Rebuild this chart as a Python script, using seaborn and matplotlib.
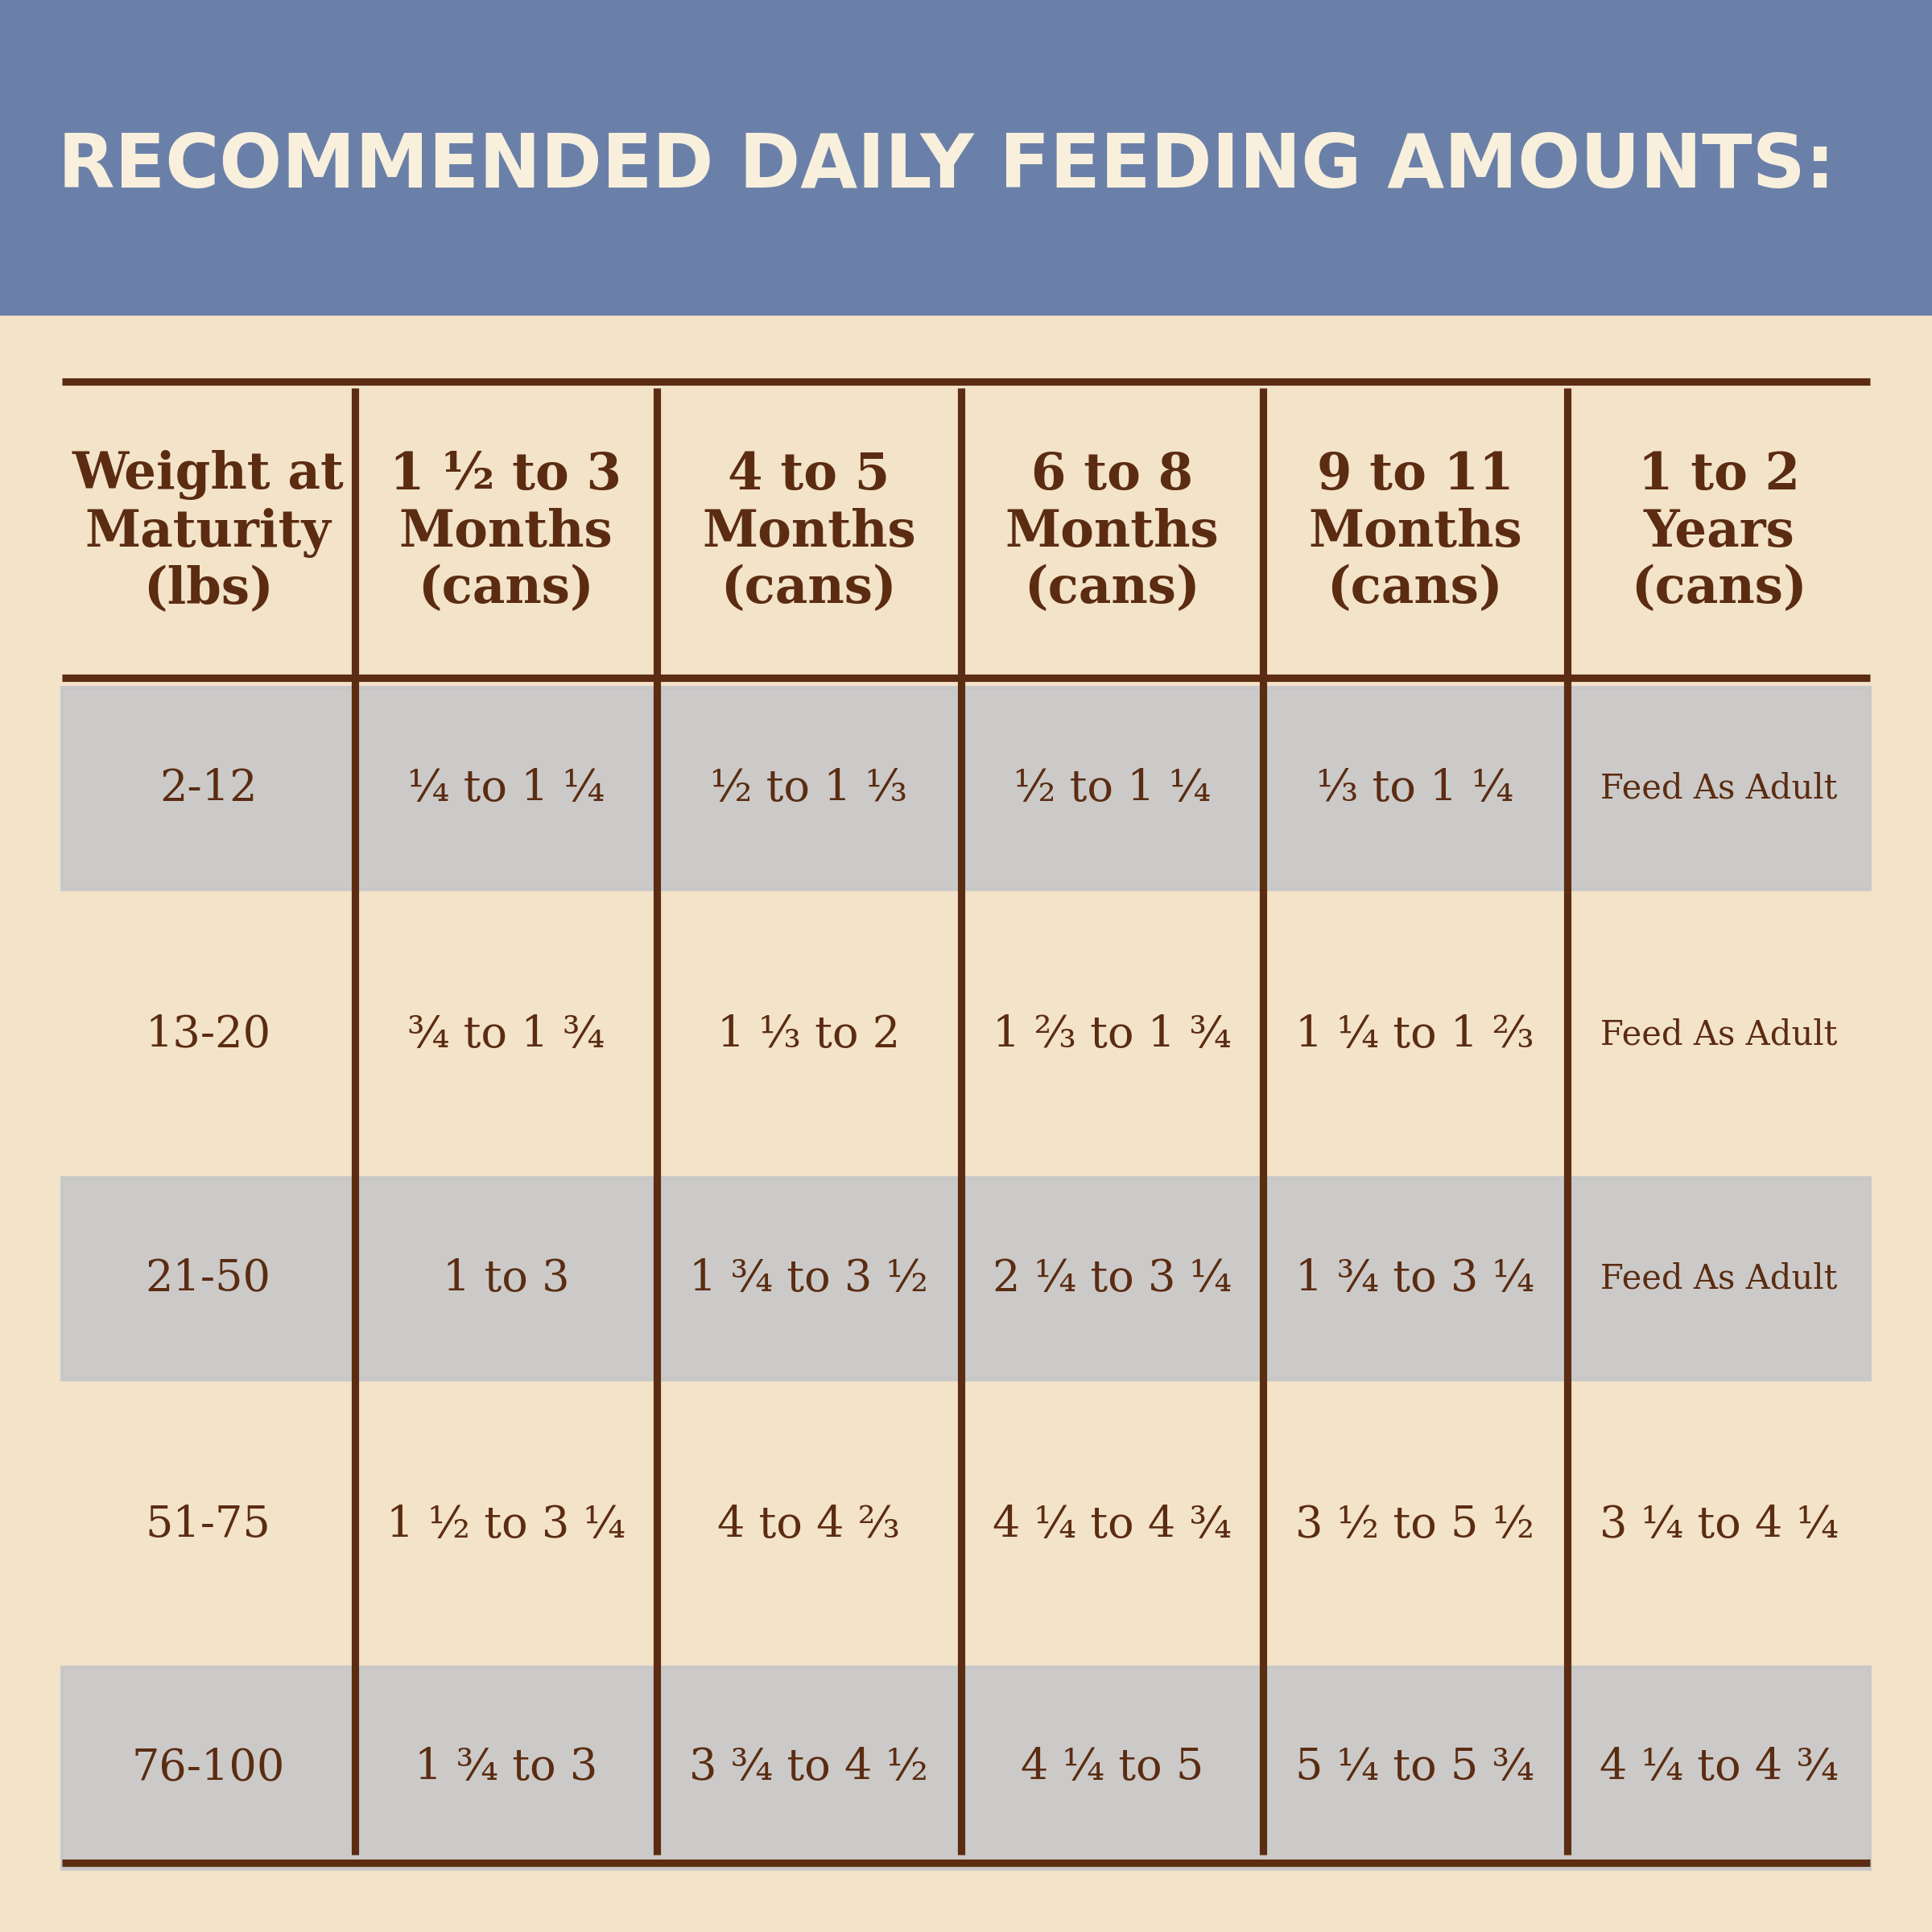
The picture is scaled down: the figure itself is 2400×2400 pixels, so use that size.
import matplotlib
matplotlib.use("Agg")
import matplotlib.pyplot as plt
import seaborn as sns

sns.set_theme(style="white")

title = "RECOMMENDED DAILY FEEDING AMOUNTS:"
col_headers = [
    "Weight at\nMaturity\n(lbs)",
    "1 ½ to 3\nMonths\n(cans)",
    "4 to 5\nMonths\n(cans)",
    "6 to 8\nMonths\n(cans)",
    "9 to 11\nMonths\n(cans)",
    "1 to 2\nYears\n(cans)",
]
weights = ["2-12", "13-20", "21-50", "51-75", "76-100"]
m1_3 = ["¼ to 1 ¼", "¾ to 1 ¾", "1 to 3", "1 ½ to 3 ¼", "1 ¾ to 3"]
m4_5 = ["½ to 1 ⅓", "1 ⅓ to 2", "1 ¾ to 3 ½", "4 to 4 ⅔", "3 ¾ to 4 ½"]
m6_8 = ["½ to 1 ¼", "1 ⅔ to 1 ¾", "2 ¼ to 3 ¼", "4 ¼ to 4 ¾", "4 ¼ to 5"]
m9_11 = ["⅓ to 1 ¼", "1 ¼ to 1 ⅔", "1 ¾ to 3 ¼", "3 ½ to 5 ½", "5 ¼ to 5 ¾"]
y1_2 = ["Feed As Adult", "Feed As Adult", "Feed As Adult", "3 ¼ to 4 ¼", "4 ¼ to 4 ¾"]
columns = [weights, m1_3, m4_5, m6_8, m9_11, y1_2]

BG = "#f3e3c8"
BLUE = "#6b80a9"
BAND = "#c6c6c9"
BROWN = "#5b2c12"
CREAM = "#f8f0dc"

fig = plt.figure(figsize=(8, 8), dpi=300, facecolor=BG)
ax = fig.add_axes([0, 0, 1, 1])
ax.set_facecolor(BG)
ax.set_xlim(0, 1568)
ax.set_ylim(1568, 0)
ax.axis("off")

# header band
ax.axhspan(0, 255, color=BLUE, zorder=1)
ax.text(768, 135, title, ha="center", va="center", color=CREAM,
        fontsize=22, fontweight="bold", family="DejaVu Sans", zorder=3)

# table geometry
col_edges = [50, 288, 533, 780, 1025, 1272, 1518]
row_centers = [640, 840, 1038, 1238, 1435]
band_half = 82
for i, yc in enumerate(row_centers):
    if i % 2 == 0:
        ax.axhspan(yc - band_half, yc + band_half, xmin=50 / 1568, xmax=1518 / 1568,
                   color=BAND, alpha=0.85, zorder=1)

# lines
ax.hlines([310, 550, 1512], 50, 1518, color=BROWN, lw=2.2, zorder=2)
ax.vlines(col_edges[1:-1], 315, 1505, color=BROWN, lw=2.2, zorder=2)

centers = [(a + b) / 2 for a, b in zip(col_edges[:-1], col_edges[1:])]
for cx, head, vals in zip(centers, col_headers, columns):
    ax.text(cx, 432, head, ha="center", va="center", color=BROWN,
            fontsize=15, fontweight="bold", family="DejaVu Serif",
            linespacing=1.2, zorder=3)
    for yc, v in zip(row_centers, vals):
        size = 10 if v == "Feed As Adult" else 13
        ax.text(cx, yc, v, ha="center", va="center", color=BROWN,
                fontsize=size, family="DejaVu Serif", zorder=3)

fig.savefig("out.png", dpi=300, facecolor=BG)
